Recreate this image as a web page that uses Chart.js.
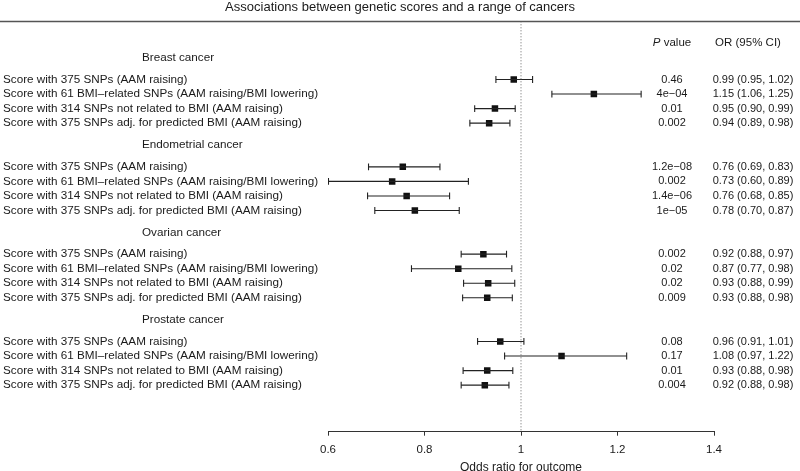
<!DOCTYPE html>
<html>
<head>
<meta charset="utf-8">
<script src="https://cdn.jsdelivr.net/npm/chart.js@4.4.0/dist/chart.umd.min.js"></script>
<style>
  html, body { margin: 0; padding: 0; background: #fff; }
  #wrap { width: 800px; height: 471px; }
</style>
</head>
<body>
<div id="wrap"><canvas id="forest"></canvas></div>
<script>
  const title = 'Associations between genetic scores and a range of cancers';
  const cancers = ['Breast cancer', 'Endometrial cancer', 'Ovarian cancer', 'Prostate cancer'];
  const scores = [
    'Score with 375 SNPs (AAM raising)',
    'Score with 61 BMI\u2013related SNPs (AAM raising/BMI lowering)',
    'Score with 314 SNPs not related to BMI (AAM raising)',
    'Score with 375 SNPs adj. for predicted BMI (AAM raising)'
  ];
  // odds ratios and 95% CI, one row per cancer
  const orValues = [
    [0.985, 1.151, 0.946, 0.934],
    [0.755, 0.733, 0.763, 0.780],
    [0.922, 0.870, 0.932, 0.930],
    [0.957, 1.084, 0.930, 0.925]
  ];
  const ciLow = [
    [0.948, 1.064, 0.904, 0.894],
    [0.684, 0.601, 0.682, 0.697],
    [0.876, 0.773, 0.881, 0.879],
    [0.910, 0.966, 0.880, 0.876]
  ];
  const ciHigh = [
    [1.024, 1.249, 0.988, 0.977],
    [0.832, 0.891, 0.852, 0.872],
    [0.970, 0.981, 0.987, 0.982],
    [1.006, 1.219, 0.983, 0.975]
  ];
  const pValues = [
    ['0.46', '4e\u221204', '0.01', '0.002'],
    ['1.2e\u221208', '0.002', '1.4e\u221206', '1e\u221205'],
    ['0.002', '0.02', '0.02', '0.009'],
    ['0.08', '0.17', '0.01', '0.004']
  ];
  const orText = [
    ['0.99 (0.95, 1.02)', '1.15 (1.06, 1.25)', '0.95 (0.90, 0.99)', '0.94 (0.89, 0.98)'],
    ['0.76 (0.69, 0.83)', '0.73 (0.60, 0.89)', '0.76 (0.68, 0.85)', '0.78 (0.70, 0.87)'],
    ['0.92 (0.88, 0.97)', '0.87 (0.77, 0.98)', '0.93 (0.88, 0.99)', '0.93 (0.88, 0.98)'],
    ['0.96 (0.91, 1.01)', '1.08 (0.97, 1.22)', '0.93 (0.88, 0.98)', '0.92 (0.88, 0.98)']
  ];
  const xTicks = [0.6, 0.8, 1, 1.2, 1.4];

  const FONT = "'Liberation Sans', Arial, Helvetica, sans-serif";
  const INK = '#1a1a1a';

  // y position (in row units) of a group header and of its rows
  function headerPos(g) { return g * 6; }
  function rowPos(g, i) { return g * 6 + 1.5 + i; }

  const datasets = [];

  // reference line at OR = 1
  datasets.push({
    type: 'line',
    data: [{x: 1, y: -2.5}, {x: 1, y: 25.7}],
    borderColor: '#666',
    borderWidth: 1,
    borderDash: [1, 2],
    pointRadius: 0
  });

  // confidence interval whiskers with end caps
  cancers.forEach((c, g) => {
    scores.forEach((s, i) => {
      datasets.push({
        type: 'line',
        data: [{x: ciLow[g][i], y: rowPos(g, i)}, {x: ciHigh[g][i], y: rowPos(g, i)}],
        borderColor: '#222',
        borderWidth: 1.1,
        pointStyle: 'line',
        rotation: 90,
        pointRadius: 3.4,
        pointBorderWidth: 1.1,
        pointBorderColor: '#222'
      });
    });
  });

  // point estimates
  const points = [];
  cancers.forEach((c, g) => {
    scores.forEach((s, i) => points.push({x: orValues[g][i], y: rowPos(g, i)}));
  });
  datasets.push({
    type: 'scatter',
    data: points,
    pointStyle: 'rect',
    pointRadius: 4.6,
    backgroundColor: '#111',
    borderWidth: 0
  });

  const textPlugin = {
    id: 'forestText',
    afterDraw(chart) {
      const ctx = chart.ctx;
      const y = chart.scales.y;
      ctx.save();
      ctx.fillStyle = INK;
      ctx.textBaseline = 'middle';

      // title and rule under it
      ctx.font = '13px ' + FONT;
      ctx.textAlign = 'center';
      ctx.fillText(title, 400, 7);
      ctx.strokeStyle = '#555';
      ctx.lineWidth = 1.5;
      ctx.beginPath();
      ctx.moveTo(0, 21.5);
      ctx.lineTo(800, 21.5);
      ctx.stroke();

      // column headers
      const hy = y.getPixelForValue(-1);
      ctx.font = 'italic 11.5px ' + FONT;
      const pi = ctx.measureText('P').width;
      ctx.font = '11.5px ' + FONT;
      const vw = ctx.measureText(' value').width;
      const px = 672 - (pi + vw) / 2;
      ctx.textAlign = 'left';
      ctx.font = 'italic 11.5px ' + FONT;
      ctx.fillText('P', px, hy);
      ctx.font = '11.5px ' + FONT;
      ctx.fillText(' value', px + pi, hy);
      ctx.textAlign = 'center';
      ctx.fillText('OR (95% CI)', 748, hy);

      cancers.forEach((c, g) => {
        ctx.font = '11.7px ' + FONT;
        ctx.textAlign = 'left';
        ctx.fillText(c, 142, y.getPixelForValue(headerPos(g)));
        scores.forEach((s, i) => {
          const ry = y.getPixelForValue(rowPos(g, i));
          ctx.font = '11.7px ' + FONT;
          ctx.textAlign = 'left';
          ctx.fillText(s, 3, ry);
          ctx.font = '11px ' + FONT;
          ctx.textAlign = 'center';
          ctx.fillText(pValues[g][i], 672, ry);
          ctx.fillText(orText[g][i], 753, ry);
        });
      });
      ctx.restore();
    }
  };

  new Chart(document.getElementById('forest'), {
    data: { datasets: datasets },
    options: {
      responsive: true,
      maintainAspectRatio: false,
      animation: false,
      events: [],
      layout: { padding: { left: 328, right: 86, top: 21.3, bottom: 0 } },
      plugins: {
        legend: { display: false },
        tooltip: { enabled: false }
      },
      scales: {
        x: {
          type: 'linear',
          min: 0.6,
          max: 1.4,
          afterBuildTicks: s => { s.ticks = xTicks.map(v => ({ value: v })); },
          afterFit: s => { s.height = 39.3; },
          ticks: {
            color: INK,
            font: { family: FONT, size: 11.5 },
            padding: 7,
            maxRotation: 0,
            callback: v => String(v)
          },
          grid: { display: true, drawOnChartArea: false, drawTicks: true, tickLength: 4, color: '#333' },
          border: { display: true, color: '#333', width: 1 },
          title: {
            display: true,
            text: 'Odds ratio for outcome',
            color: INK,
            font: { family: FONT, size: 12 },
            padding: { top: 0, bottom: -4 }
          }
        },
        y: {
          type: 'linear',
          min: -2.5,
          max: 25.7,
          reverse: true,
          display: false
        }
      }
    },
    plugins: [textPlugin]
  });
</script>
</body>
</html>
